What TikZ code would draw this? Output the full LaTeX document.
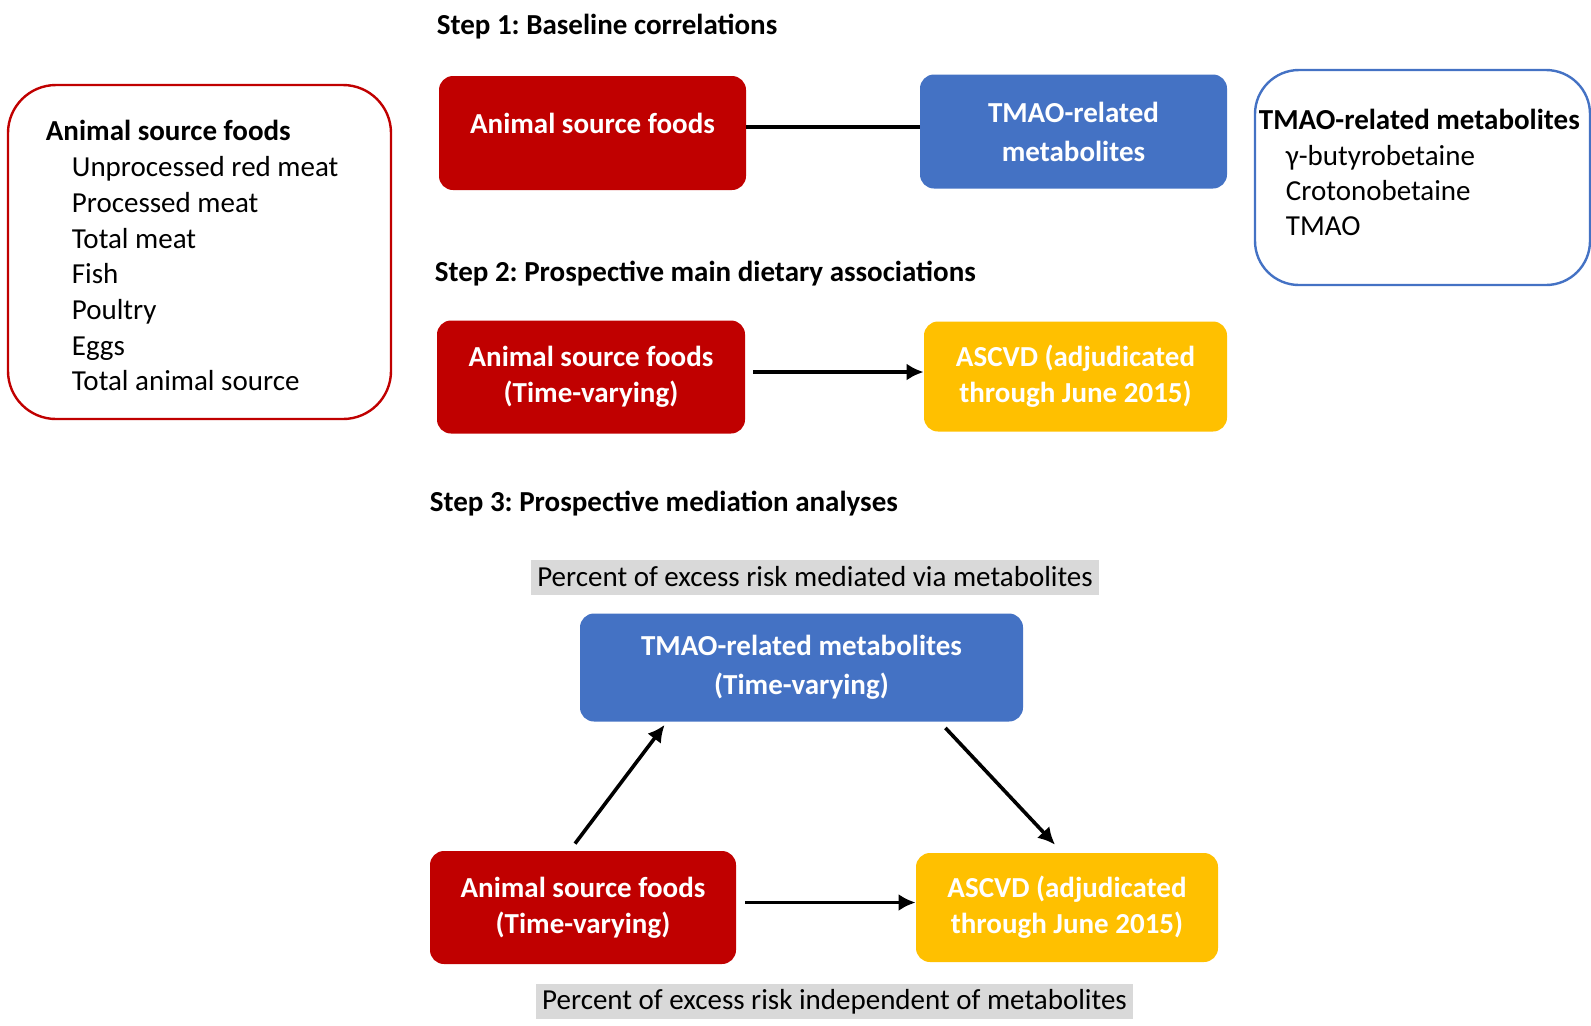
\documentclass[tikz,border=0pt]{standalone}
\usepackage{fontspec}
\setmainfont{Carlito}
\usetikzlibrary{arrows,arrows.meta}
\definecolor{darkred}{HTML}{C00000}
\definecolor{tmaoblue}{HTML}{4472C4}
\definecolor{ascyellow}{HTML}{FFC000}
\definecolor{labelgray}{HTML}{D9D9D9}
\frenchspacing

\begin{document}
\begin{tikzpicture}[x=0.5pt, y=-0.5pt, font=\fontsize{14.5}{18}\selectfont,
  fillbox/.style={rounded corners=7pt, text=white, align=center, inner sep=0pt,
    font=\fontsize{14.5}{18}\selectfont\bfseries},
  listbox/.style={draw, line width=1.2pt, rounded corners=24pt, inner sep=0pt},
  listtext/.style={anchor=base west, inner sep=0pt},
  headtext/.style={anchor=base west, inner sep=0pt, font=\fontsize{14.5}{18}\selectfont\bfseries},
  greylabel/.style={fill=labelgray, inner xsep=3pt, inner ysep=0pt, minimum height=17.5pt},
  link/.style={black, line width=1.8pt},
  arrow/.style={black, line width=1.8pt, -{Latex[length=8.5pt,width=8.5pt]}}]
\useasboundingbox (0,0) rectangle (1591,1025);

\node[headtext] (step1) at (436.5,34) {Step 1: Baseline correlations};
\node[headtext] (step2) at (434.5,281) {Step 2: Prospective main dietary associations};
\node[headtext] (step3) at (429.5,511) {Step 3: Prospective mediation analyses};

\node[listbox, draw=darkred, minimum width=191.5pt, minimum height=167pt] (foodbox) at (199.5,252) {};
\node[headtext] (foodhead) at (45.5,140) {Animal source foods};
\foreach \f [count=\i] in {Unprocessed red meat, Processed meat, Total meat, Fish, Poultry, Eggs, Total animal source}
  \node[listtext] (fooditem\i) at (71.5,141+35.7*\i) {\f};

\node[listbox, draw=tmaoblue, rounded corners=22pt, minimum width=167.5pt, minimum height=107.5pt] (metbox) at (1422.5,177.5) {};
\node[headtext] (methead) at (1258.5,129) {TMAO-related metabolites};
\foreach \m [count=\i] in {γ-butyrobetaine, Crotonobetaine, TMAO}
  \node[listtext] (metitem\i) at (1285.5,130+35.3*\i) {\m};

\node[fillbox, fill=darkred, minimum width=153.5pt, minimum height=57pt, text depth=10pt] (asf1) at (592.5,133) {Animal source foods};
\node[fillbox, fill=tmaoblue, minimum width=153.5pt, minimum height=57pt, font=\fontsize{14.5}{19.5}\selectfont\bfseries] (tmao1) at (1073.5,131.5) {TMAO-related\\metabolites};
\draw[link] ([yshift=3pt]asf1.east) -- ([yshift=3pt]asf1.east -| tmao1.west);

\node[fillbox, fill=darkred, minimum width=154pt, minimum height=56.5pt] (asf2) at (591,377) {Animal source foods\\(Time-varying)};
\node[fillbox, fill=ascyellow, minimum width=151.5pt, minimum height=55pt] (ascvd2) at (1075.5,376.5) {ASCVD (adjudicated\\through June 2015)};
\draw[arrow] ([xshift=4pt,yshift=2.5pt]asf2.east) -- ([yshift=2.5pt]asf2.east -| ascvd2.west);

\node[greylabel] (mediated) at (815,577) {Percent of excess risk mediated via metabolites};
\node[fillbox, fill=tmaoblue, minimum width=221.5pt, minimum height=54pt, font=\fontsize{14.5}{19.5}\selectfont\bfseries] (tmao3) at (801.5,667.5) {TMAO-related metabolites\\(Time-varying)};
\node[fillbox, fill=darkred, minimum width=153pt, minimum height=56.5pt] (asf3) at (583,907.5) {Animal source foods\\(Time-varying)};
\node[fillbox, fill=ascyellow, minimum width=151pt, minimum height=54.5pt] (ascvd3) at (1067,907.5) {ASCVD (adjudicated\\through June 2015)};
\node[greylabel] (independent) at (834.5,1001.5) {Percent of excess risk independent of metabolites};

\draw[arrow] ([xshift=-4pt,yshift=3.5pt]asf3.north) -- ([xshift=42.5pt,yshift=-1.5pt]tmao3.south west);
\draw[arrow] ([xshift=-39pt,yshift=-3pt]tmao3.south east) -- ([xshift=-6pt,yshift=4pt]ascvd3.north);
\draw[arrow] ([xshift=4.5pt,yshift=2.5pt]asf3.east) -- ([yshift=2.5pt]asf3.east -| ascvd3.west);
\end{tikzpicture}
\end{document}
